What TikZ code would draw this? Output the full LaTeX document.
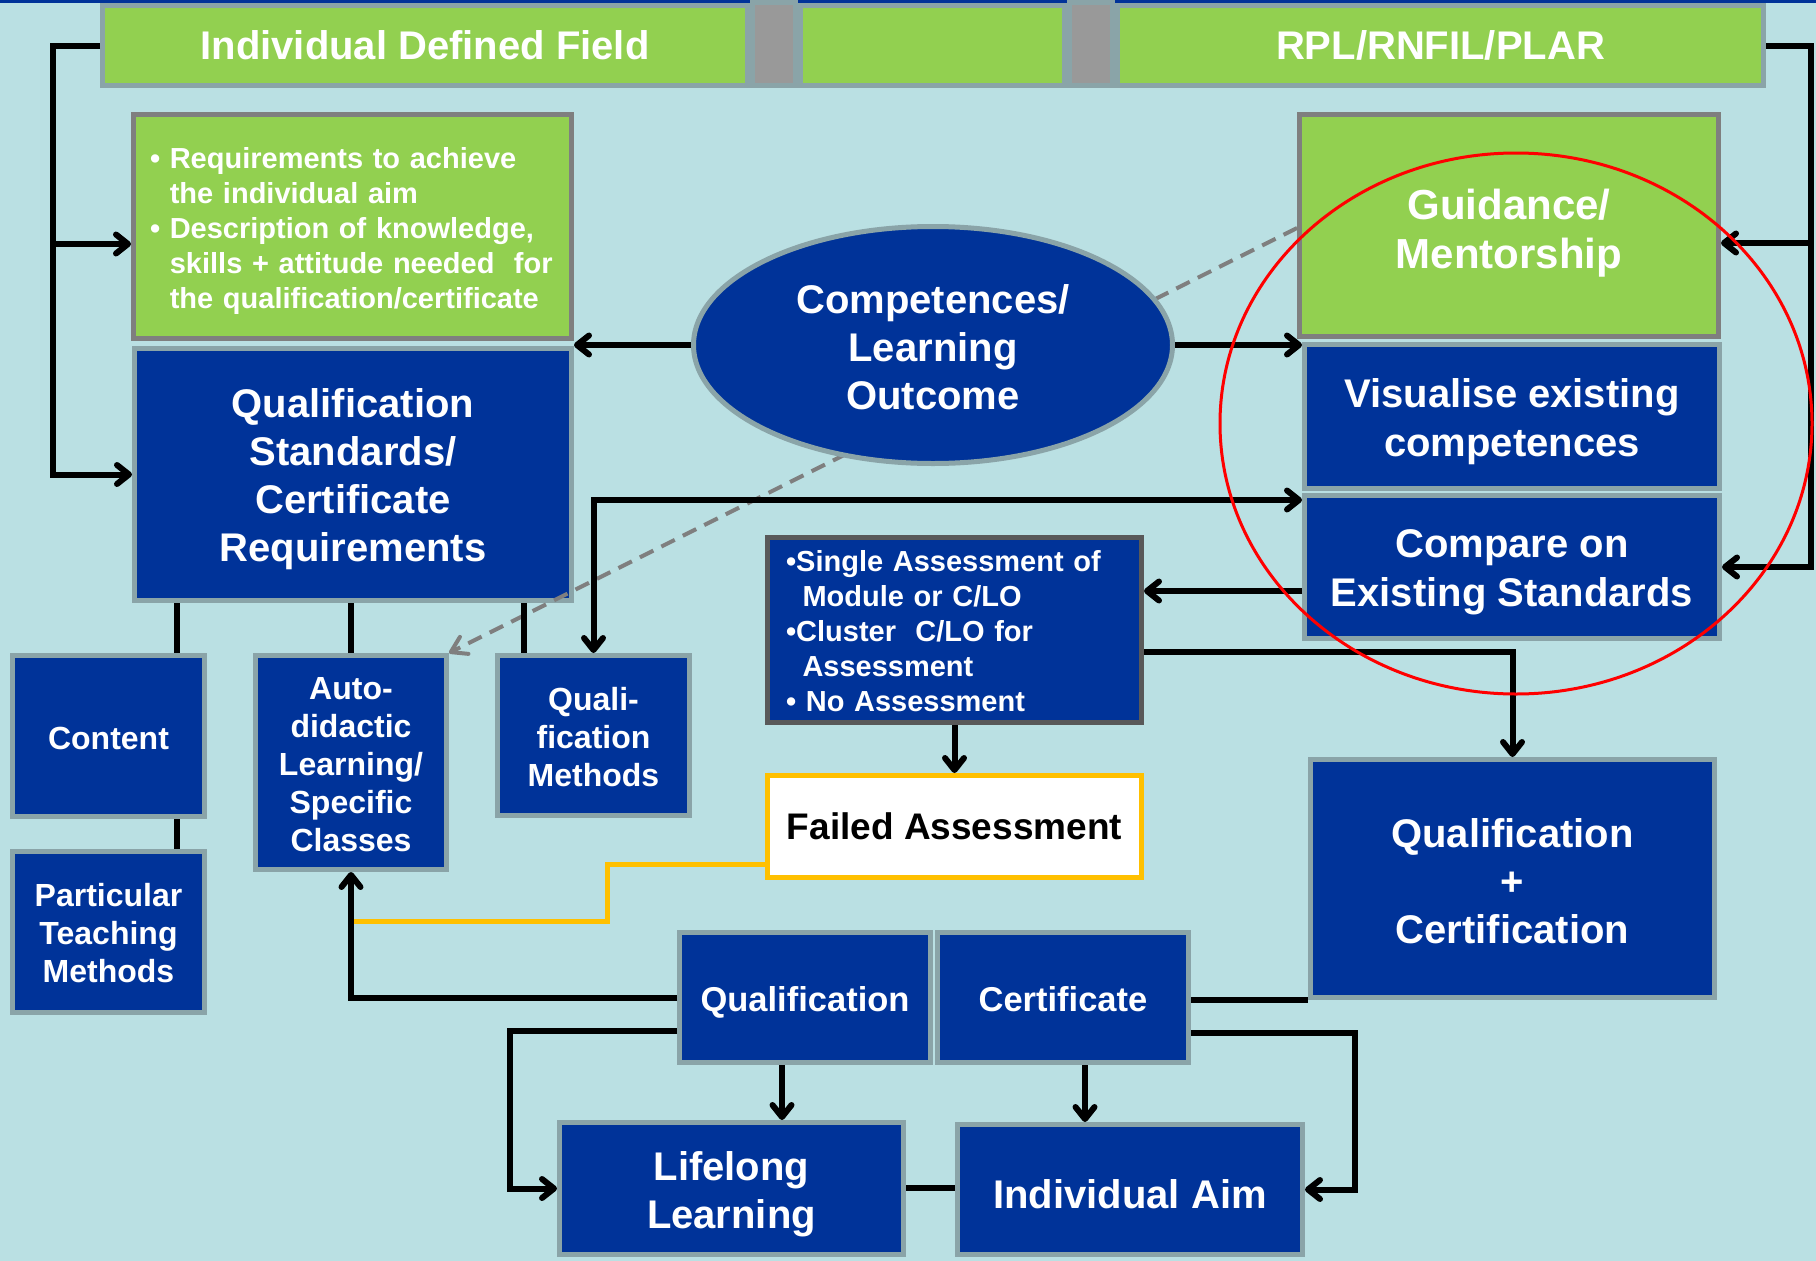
\documentclass[tikz,border=0pt]{standalone}
\usepackage{fontspec}
\setmainfont{Liberation Sans}
\usetikzlibrary{arrows.meta,shapes.geometric}
\definecolor{bg}{HTML}{BAE0E3}
\definecolor{navy}{HTML}{003399}
\definecolor{leaf}{HTML}{92D050}
\definecolor{boxline}{HTML}{8AA4A8}
\definecolor{greyline}{HTML}{7F7F7F}
\definecolor{darkline}{HTML}{595959}
\definecolor{block}{HTML}{999999}
\definecolor{amber}{HTML}{FFC000}
\newcommand\fsz[2]{\fontsize{#1}{#2}\selectfont}
% invisible strut that sets the height of a first line
\newcommand\firstlinestrut[1]{\rule{0pt}{#1pt}}
\begin{document}
\begin{tikzpicture}[x=1pt,y=-1pt,
  every node/.style={inner sep=0pt},
  box/.style={draw=boxline, line width=5pt, fill=navy, text=white, align=center,
    font=\bfseries\fsz{40}{48}},
  smallbox/.style={box, font=\bfseries\fsz{32}{38}},
  greenbox/.style={draw=greyline, line width=5pt, fill=leaf, text=white},
  barseg/.style={draw=boxline, line width=5pt, fill=leaf, text=white,
    font=\bfseries\fsz{40}{48}, minimum height=80pt},
  gapblock/.style={draw=boxline, line width=5pt, fill=block, minimum height=83pt, minimum width=43pt},
  conn/.style={line width=6pt, black},
  tipA/.style={-{Straight Barb[round, length=12pt, width=19pt]}},
  arr/.style={conn, tipA},
  arrboth/.style={conn, {Straight Barb[round, length=12pt, width=19pt]}-{Straight Barb[round, length=12pt, width=19pt]}},
  hint/.style={line width=4pt, greyline, dash pattern=on 15pt off 9pt,
    -{Straight Barb[round, length=15pt, width=19pt]}},
  failpath/.style={line width=5pt, amber},
]
\useasboundingbox (0,0) rectangle (1816,1261);
\fill[bg] (0,0) rectangle (1816,1261);
\fill[navy] (0,0) rectangle (1816,2.5);

% header bar
\node[barseg, minimum width=645pt] (fieldL) at (425,45.5) {Individual Defined Field};
\node[gapblock] (gapA) at (774,44) {};
\node[barseg, minimum width=264pt] (fieldM) at (932.5,45.5) {};
\node[gapblock] (gapB) at (1091,44) {};
\node[barseg, minimum width=646pt] (fieldR) at (1440.5,45.5) {RPL/RNFIL/PLAR};

% left column
\node[greenbox, minimum width=438pt, minimum height=224pt, text width=405pt,
  inner xsep=16.5pt, align=left, font=\bfseries\fsz{29}{35.2}] (req) at (352.5,226.5)
  {\firstlinestrut{30}• Requirements to achieve\\\phantom{• }the individual aim\\• Description of knowledge,\\\phantom{• }skills + attitude needed\ \ for\\\phantom{• }the qualification/certificate};
\node[box, minimum width=437pt, minimum height=252pt] (std) at (353,474.5)
  {\firstlinestrut{38.5}Qualification\\Standards/\\Certificate\\Requirements};

\node[smallbox, minimum width=192pt, minimum height=161pt, text height=26pt, text depth=0pt] (content) at (108.5,736) {Content};
\node[smallbox, minimum width=192pt, minimum height=161pt] (ptm) at (108.5,932) {\firstlinestrut{26}Particular\\Teaching\\Methods};
\node[smallbox, minimum width=191pt, minimum height=214pt] (auto) at (351,762.5) {\firstlinestrut{26}Auto-\\didactic\\Learning/\\Specific\\Classes};
\node[smallbox, minimum width=192pt, minimum height=160pt] (qm) at (593.5,735.5) {\firstlinestrut{26}Quali-\\fication\\Methods};

% right column
\node[greenbox, minimum width=419pt, minimum height=222pt, align=center,
  font=\bfseries\fsz{42}{49}] (guid) at (1509,225.5) {\firstlinestrut{46.5}Guidance/\\Mentorship};
\node[box, minimum width=415pt, minimum height=144pt, font=\bfseries\fsz{40}{49}] (vis) at (1512,416.5) {\firstlinestrut{39.5}Visualise existing\\competences};
\node[box, minimum width=415pt, minimum height=143pt, font=\bfseries\fsz{40}{49}] (comp) at (1512,567) {\firstlinestrut{37.5}Compare on\\Existing Standards};

% middle
\node[box, draw=darkline, minimum width=374pt, minimum height=185pt, text width=337pt,
  inner xsep=18.5pt, align=left, font=\bfseries\fsz{29}{35}] (assess) at (954.5,630)
  {\firstlinestrut{23.5}•Single Assessment of\\\hspace*{16.5pt}Module or C/LO\\•Cluster\ \ C/LO for\\\hspace*{16.5pt}Assessment\\• No Assessment};
\node[draw=amber, line width=5pt, fill=white, text=black, minimum width=374pt, minimum height=102pt,
  font=\bfseries\fsz{37}{44}] (failed) at (954.5,826.5) {Failed Assessment};
\node[box, minimum width=404pt, minimum height=238pt] (qc) at (1512.5,878.5) {\firstlinestrut{33.5}Qualification\\+\\Certification};

% bottom
\node[box, minimum width=251pt, minimum height=130pt, font=\bfseries\fsz{34.5}{40},
  text height=28.7pt, text depth=0pt] (qual) at (805,997.5) {Qualification};
\node[box, minimum width=251pt, minimum height=130pt, font=\bfseries\fsz{34.5}{40},
  text height=28.7pt, text depth=0pt] (cert) at (1063,997.5) {Certificate};
\node[box, minimum width=344pt, minimum height=132pt] (life) at (731.5,1188.5) {\firstlinestrut{40.5}Lifelong\\Learning};
\node[box, minimum width=345pt, minimum height=130pt, text height=37.6pt, text depth=0pt] (aim) at (1130,1189.5) {Individual Aim};

% grey hint line, passing behind the ellipse
\draw[hint] (guid.west |- 0,228) -- (auto.north east);

\node[ellipse, draw=boxline, line width=5pt, fill=navy, text=white, align=center,
  font=\bfseries\fsz{40}{48}, minimum width=479pt, minimum height=237pt] (lo) at (933,345)
  {\firstlinestrut{32.5}Competences/\\Learning\\Outcome};

% header brackets
\coordinate (lbus) at (fieldL.west -| 53,0);
\draw[arr] (fieldL.west) -- (lbus) |- (std.west);
\draw[arr] (lbus |- 0,244) -- (req.west |- 0,244);
\coordinate (rbus) at (fieldR.east -| 1811,0);
\draw[arr] (fieldR.east) -- (rbus) |- (comp.east);
\draw[arr] (rbus |- 0,243) -- (guid.east |- 0,243);

% outcome arrows
\draw[arr] (lo.west) -- (lo.west -| std.east);
\draw[arr] (lo.east) -- (lo.east -| vis.west);

% standards to its parts
\draw[conn] (std.south -| 177,0) -- (content.north -| 177,0);
\draw[conn] (content.south -| 177,0) -- (ptm.north -| 177,0);
\draw[conn] (std.south -| auto.north) -- (auto.north);
\draw[conn] (std.south -| 524,0) -- (qm.north -| 524,0);

% methods <-> comparison
\coordinate (j1) at (qm.north |- 0,500);
\draw[arrboth] (qm.north) -- (j1) -- (j1 -| comp.west);

% assessment flow
\draw[arr] (comp.west |- 0,591) -- (assess.east |- 0,591);
\draw[arr] (assess.south) -- (failed.north);
\draw[arr] (assess.east |- 0,652) -| (qc.north);
\draw[failpath] (failed.west |- 0,864) -- (607,864) -- (607,921) -- (auto.south |- 0,921);

% results
\draw[arr] (qual.west |- 0,998) -| (auto.south);
\draw[arr] (qual.west |- 0,1031) -- (510,1031) |- (life.west);
\draw[arr] (qual.south -| 782,0) -- (life.north -| 782,0);
\draw[arr] (cert.south -| 1085,0) -- (aim.north -| 1085,0);
\draw[conn] (cert.east |- 0,1000) -- (qc.west |- 0,1000);
\draw[arr] (cert.east |- 0,1033) -- (1355,1033) |- (aim.east);
\draw[conn] (life.east |- 0,1188) -- (aim.west |- 0,1188);

% highlight
\draw[red, line width=3pt] (1516,423.5) ellipse [x radius=296, y radius=270.5];
\end{tikzpicture}
\end{document}
